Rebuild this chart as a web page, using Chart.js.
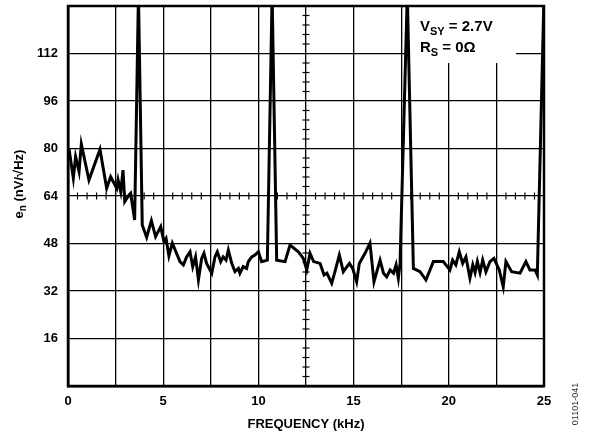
<!DOCTYPE html>
<html>
<head>
<meta charset="utf-8">
<script src="https://cdn.jsdelivr.net/npm/chart.js@4"></script>
<style>
  html, body { margin: 0; padding: 0; background: #fff; }
</style>
</head>
<body>
<canvas id="noiseChart" width="591" height="436"></canvas>
<script>
const ctx = document.getElementById("noiseChart");

// frequency (kHz) and voltage noise density (nV/rtHz)
const freq = [
  0.05, 0.28, 0.4, 0.58, 0.7, 1.1, 1.68, 2.03, 2.24, 2.42, 2.56, 2.63, 2.77, 2.89, 2.98, 3.2, 3.29, 3.5,
  3.7, 3.9, 4.13, 4.38, 4.6, 4.87, 5.04, 5.15, 5.3, 5.48, 5.88, 6.06, 6.23, 6.41, 6.55, 6.7, 6.85,
  7.02, 7.14, 7.28, 7.55, 7.72, 7.84, 8.02, 8.15, 8.3, 8.42, 8.6, 8.77, 8.95, 9.03, 9.2, 9.38, 9.47,
  9.65, 9.82, 10.0, 10.17, 10.47, 10.72, 10.96, 11.4, 11.66, 12.1, 12.36, 12.54, 12.71, 12.9, 13.24,
  13.45, 13.6, 13.85, 14.02, 14.25, 14.46, 14.78, 14.95, 15.16, 15.3, 15.6, 15.86, 16.07, 16.39,
  16.57, 16.74, 16.92, 17.1, 17.23, 17.35, 17.44, 17.82, 18.14, 18.49, 18.8, 19.19, 19.71, 20.06,
  20.2, 20.37, 20.55, 20.73, 20.9, 21.11, 21.26, 21.38, 21.5, 21.64, 21.78, 21.95, 22.16, 22.37,
  22.65, 22.86, 23.0, 23.3, 23.74, 24.05, 24.26, 24.53, 24.65, 25
];
const noise = [
  80, 70, 77.2, 72.2, 81.5, 69.4, 79.7, 66.6, 70.5, 68.3, 66.6, 69.4, 65.4, 72.7, 62.1, 64.3, 64.9, 55.9,
  132, 54.2, 50.1, 55.7, 50.3, 53.7, 48.6, 49.7, 43.8, 48.1, 41.9, 40.8, 43.5, 45.2, 40.2, 43.5, 35.7,
  43.0, 44.7, 41.3, 38, 43.5, 45.2, 41.9, 43.5, 42.4, 45.8, 41.3, 38.5, 39.6, 38, 40.2, 39.6, 41.9,
  43.5, 44.1, 45.2, 41.9, 42.4, 132, 42.4, 41.9, 47.5, 45.2, 43.0, 39.1, 44.7, 41.9, 41.3,
  37.4, 38, 34.6, 38.5, 44.1, 38.5, 41.3, 39.6, 35.1, 41.3, 44.7, 48.1, 35.1, 42.4,
  38, 36.8, 39.1, 38, 40.8, 36.3, 41.3, 132, 39.6, 38.5, 35.7, 41.9, 41.9, 39.1,
  42.4, 40.8, 45.2, 41.3, 43.5, 36.3, 40.8, 38.2, 41.9, 38.2, 42.4, 38.5, 41.9, 43.0,
  39.1, 33.4, 41.9, 38.5, 38, 41.9, 39.1, 39.1, 37.4, 132
];

const xTicks = [0, 5, 10, 15, 20, 25];
const yTicks = [16, 32, 48, 64, 80, 96, 112];

const FONT = "'Liberation Sans', Arial, sans-serif";

const decorations = {
  id: "decorations",
  beforeDatasetsDraw(chart) {
    const { ctx, chartArea: a, scales } = chart;
    const xs = scales.x, ys = scales.y;
    ctx.save();
    ctx.strokeStyle = "#000";
    ctx.lineWidth = 1.2;
    // minor ticks on the centre cross
    const cy = ys.getPixelForValue(64);
    const cx = xs.getPixelForValue(12.5);
    for (let i = 1; i < 50; i++) {
      if (i % 5 === 0) continue;
      const px = xs.getPixelForValue(i * 0.5);
      ctx.beginPath();
      ctx.moveTo(px, cy - 3.5);
      ctx.lineTo(px, cy + 3.5);
      ctx.stroke();
    }
    for (let i = 1; i < 40; i++) {
      if (i % 5 === 0) continue;
      const py = ys.getPixelForValue(i * 3.2);
      ctx.beginPath();
      ctx.moveTo(cx - 3.5, py);
      ctx.lineTo(cx + 3.5, py);
      ctx.stroke();
    }
    // condition box
    ctx.fillStyle = "#fff";
    ctx.fillRect(410, a.top + 1, 106, 56);
    ctx.fillStyle = "#000";
    ctx.textBaseline = "alphabetic";
    ctx.textAlign = "left";
    let x = 420;
    ctx.font = "bold 15px " + FONT;
    ctx.fillText("V", x, 31);
    x += ctx.measureText("V").width;
    ctx.font = "bold 11px " + FONT;
    ctx.fillText("SY", x, 35);
    x += ctx.measureText("SY").width;
    ctx.font = "bold 15px " + FONT;
    ctx.fillText(" = 2.7V", x, 31);
    x = 420;
    ctx.fillText("R", x, 52);
    x += ctx.measureText("R").width;
    ctx.font = "bold 11px " + FONT;
    ctx.fillText("S", x, 56);
    x += ctx.measureText("S").width;
    ctx.font = "bold 15px " + FONT;
    ctx.fillText(" = 0\u03A9", x, 52);
    ctx.restore();
  },
  afterDraw(chart) {
    const { ctx, chartArea: a } = chart;
    ctx.save();
    ctx.strokeStyle = "#000";
    ctx.lineWidth = 2.5;
    ctx.strokeRect(a.left, a.top, a.right - a.left, a.bottom - a.top);
    // axis titles
    ctx.fillStyle = "#000";
    ctx.font = "bold 13px " + FONT;
    ctx.textAlign = "center";
    ctx.textBaseline = "middle";
    ctx.fillText("FREQUENCY (kHz)", (a.left + a.right) / 2, 424);
    ctx.translate(18, 184);
    ctx.rotate(-Math.PI / 2);
    const main = " (nV/\u221AHz)";
    ctx.font = "bold 13px " + FONT;
    const wE = ctx.measureText("e").width;
    const wM = ctx.measureText(main).width;
    ctx.font = "bold 10px " + FONT;
    const wN = ctx.measureText("n").width;
    let x = -(wE + wN + wM) / 2;
    ctx.textAlign = "left";
    ctx.textBaseline = "alphabetic";
    ctx.font = "bold 13px " + FONT;
    ctx.fillText("e", x, 5);
    x += wE;
    ctx.font = "bold 10px " + FONT;
    ctx.fillText("n", x, 8);
    x += wN;
    ctx.font = "bold 13px " + FONT;
    ctx.fillText(main, x, 5);
    ctx.restore();
    // figure code
    ctx.save();
    ctx.fillStyle = "#333";
    ctx.font = "9px " + FONT;
    ctx.translate(576, 404);
    ctx.rotate(-Math.PI / 2);
    ctx.textAlign = "center";
    ctx.textBaseline = "middle";
    ctx.fillText("01101-041", 0, 0);
    ctx.restore();
  }
};

new Chart(ctx, {
  type: "line",
  data: {
    datasets: [
      {
        label: "e_n",
        data: freq.map((f, i) => ({ x: f, y: noise[i] })),
        borderColor: "#000",
        borderWidth: 3,
        pointRadius: 0,
        tension: 0,
        fill: false,
        borderJoinStyle: "miter"
      }
    ]
  },
  plugins: [decorations],
  options: {
    responsive: false,
    animation: false,
    devicePixelRatio: 1,
    layout: { padding: { left: 0, right: 47, top: 6, bottom: 0 } },
    plugins: {
      legend: { display: false },
      tooltip: { enabled: false }
    },
    scales: {
      x: {
        type: "linear",
        min: 0,
        max: 25,
        afterFit: (s) => {
          s.height = 50;
          s.paddingLeft = 0;
          s.paddingRight = 0;
        },
        afterBuildTicks: (s) => {
          const t = [];
          for (let i = 0; i <= 10; i++) t.push({ value: i * 2.5 });
          s.ticks = t;
        },
        ticks: {
          color: "#000",
          padding: 8,
          maxRotation: 0,
          autoSkip: false,
          font: { family: FONT, size: 13, weight: "bold" },
          callback: (v) => (xTicks.includes(v) ? String(v) : "")
        },
        grid: { color: "#000", lineWidth: 1.3, drawTicks: false },
        border: { color: "#000", width: 2.5 }
      },
      y: {
        min: 0,
        max: 128,
        afterFit: (s) => {
          s.width = 68;
          s.paddingTop = 0;
          s.paddingBottom = 0;
        },
        afterBuildTicks: (s) => {
          const t = [];
          for (let i = 0; i <= 8; i++) t.push({ value: i * 16 });
          s.ticks = t;
        },
        ticks: {
          color: "#000",
          padding: 10,
          autoSkip: false,
          font: { family: FONT, size: 13, weight: "bold" },
          callback: (v) => (yTicks.includes(v) ? String(v) : "")
        },
        grid: { color: "#000", lineWidth: 1.3, drawTicks: false },
        border: { color: "#000", width: 2.5 }
      }
    }
  }
});
</script>
</body>
</html>
